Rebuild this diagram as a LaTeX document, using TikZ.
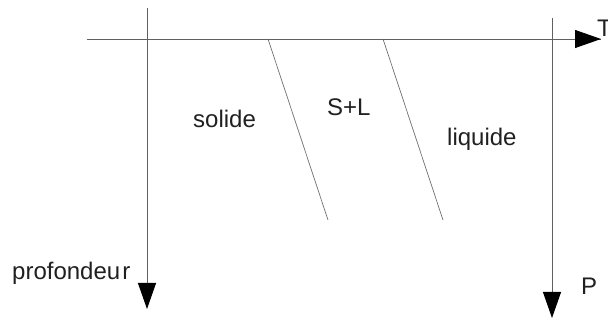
\documentclass[tikz,border=0pt]{standalone}
\usepackage{fontspec}
\setmainfont{Liberation Sans}
\usetikzlibrary{arrows.meta}
\definecolor{axisgray}{HTML}{606060}
\definecolor{slantgray}{HTML}{707070}
\definecolor{txt}{HTML}{202020}
\begin{document}
\begin{tikzpicture}[x=1pt,y=-1pt,
  axis/.style={draw=axisgray,line width=0.9pt},
  arr/.style={axis,-{Triangle[length=26pt,width=18pt,fill=black,color=black]}},
  slant/.style={draw=slantgray,line width=0.7pt},
  lbl/.style={text=txt,font=\fontsize{24}{28}\selectfont,inner sep=0pt,anchor=base west}]
\useasboundingbox (0,0) rectangle (608,320);
% axes
\coordinate (hL) at (87,39);
\coordinate (hR) at (601,39);
\coordinate (v1T) at (147,8);
\coordinate (v1B) at (147,309);
\coordinate (v2T) at (552,18);
\coordinate (v2B) at (552,318);
\draw[axis] (hL) -- (hR);
\draw[arr] (hL) -- (hR);
\draw[arr] (v1T) -- (v1B);
\draw[arr] (v2T) -- (v2B);
% phase boundaries
\coordinate (s1T) at (268,39);
\coordinate (s1B) at (328,220);
\coordinate (s2T) at (383,39);
\coordinate (s2B) at (443,220);
\draw[slant] (s1T) -- (s1B);
\draw[slant] (s2T) -- (s2B);
% labels
\node[lbl] (T) at (597,37) {T};
\node[lbl] (P) at (581,295) {P};
\node[lbl] (prof) at (12,280) {profondeu\kern2pt r};
\node[lbl] (sol) at (193,128) {solide};
\node[lbl] (sl) at (327,116) {S+L};
\node[lbl] (liq) at (447,146) {liquide};
\end{tikzpicture}
\end{document}
